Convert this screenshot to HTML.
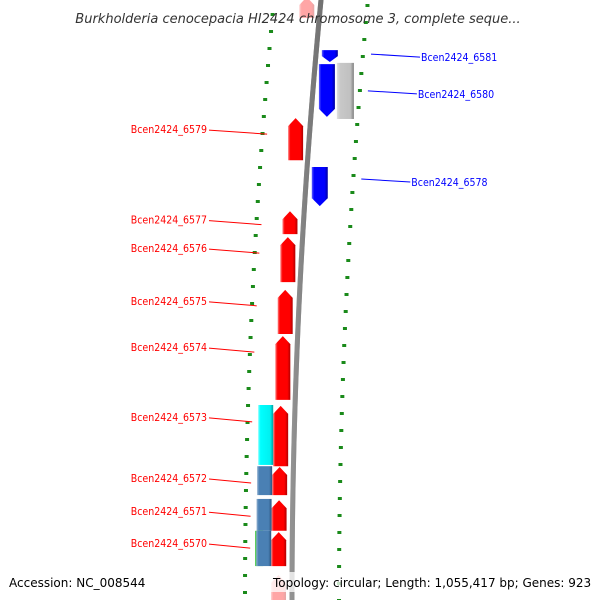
<!DOCTYPE html>
<html><head><meta charset="utf-8"><style>
html,body{margin:0;padding:0;background:#fff}
svg text{font-family:"DejaVu Sans Condensed","DejaVu Sans",sans-serif}
</style></head><body>
<svg id="map" width="600" height="600" viewBox="0 0 600 600" xmlns="http://www.w3.org/2000/svg">
<defs>
<linearGradient id="gRed" x1="0" x2="1"><stop offset="0" stop-color="#ff8080"/><stop offset="0.15" stop-color="#ff0000"/><stop offset="0.8" stop-color="#ff0000"/><stop offset="1" stop-color="#b00000"/></linearGradient>
<linearGradient id="gBlue" x1="0" x2="1"><stop offset="0" stop-color="#6060ff"/><stop offset="0.15" stop-color="#0000ff"/><stop offset="0.8" stop-color="#0000ff"/><stop offset="1" stop-color="#0000a0"/></linearGradient>
<linearGradient id="gGray" x1="0" x2="1"><stop offset="0" stop-color="#e0e0e0"/><stop offset="0.2" stop-color="#c8c8c8"/><stop offset="0.8" stop-color="#c0c0c0"/><stop offset="1" stop-color="#808080"/></linearGradient>
<linearGradient id="gCyan" x1="0" x2="1"><stop offset="0" stop-color="#80ffff"/><stop offset="0.15" stop-color="#00ffff"/><stop offset="0.8" stop-color="#00f0f0"/><stop offset="1" stop-color="#00a0a0"/></linearGradient>
<linearGradient id="gSteel" x1="0" x2="1"><stop offset="0" stop-color="#90b0d0"/><stop offset="0.15" stop-color="#4a80b4"/><stop offset="0.8" stop-color="#4a80b4"/><stop offset="1" stop-color="#2c5580"/></linearGradient>
<linearGradient id="gBack" x1="0" x2="1"><stop offset="0" stop-color="#a0a0a0"/><stop offset="0.5" stop-color="#707070"/><stop offset="1" stop-color="#505050"/></linearGradient>
</defs>
<g id="ticks"></g>
<g id="genes"></g>
<g id="labels"></g>
<text x="298" y="23" text-anchor="middle" font-size="13" font-style="italic" fill="#333" style="font-family:'DejaVu Sans',sans-serif">Burkholderia cenocepacia HI2424 chromosome 3, complete seque...</text>
<rect x="270" y="572" width="325" height="20" fill="#fff" opacity="0.75"/>
<text x="9" y="587" font-size="12" fill="#000" style="font-family:'DejaVu Sans',sans-serif">Accession: NC_008544</text>
<text x="273" y="587" font-size="12" fill="#000" style="font-family:'DejaVu Sans',sans-serif">Topology: circular; Length: 1,055,417 bp; Genes: 923</text>
</svg>
<script>
// data (kbp)
const majorTicks = [806, 804, 802, 800, 798, 796, 794];
const geneNames = ["top_partial","Bcen2424_6579","Bcen2424_6577","Bcen2424_6576","Bcen2424_6575","Bcen2424_6574","Bcen2424_6573","Bcen2424_6572","Bcen2424_6571","Bcen2424_6570","bottom_partial","Bcen2424_6581","Bcen2424_6580","Bcen2424_6578","c1","c2","c3","c4","c5","b1"];
const geneStart = [807.2,804.35,802.16,801.55,800.31,799.22,797.58,796.14,795.36,794.61,793.6,805.95,805.65,803.2,797.6,796.16,795.39,794.64,794.64,805.62];
const geneEnd   = [806.71,803.36,801.62,800.49,799.27,797.72,796.16,795.48,794.64,793.81,792.9,805.67,804.33,802.28,796.19,795.48,794.64,793.81,793.81,804.38];
const geneLane  = [-1,-1,-1,-1,-1,-1,-1,-1,-1,-1,-1,1,2,1,-2,-2,-2,-3,-2,1];
const geneKind  = ["red","red","red","red","red","red","red","red","red","red","red","blue","gray","blue","cyan","steel","steel","green","steel","blue"];
const labelled  = [false,true,true,true,true,true,true,true,true,true,false,true,true,true,false,false,false,false,false,false];

const NS="http://www.w3.org/2000/svg";
function yOf(k){return 48+(806-k)*42.5;}
function bx(y){const t=Math.max(0,1-y/600);return 292+29*t*t;}
function mk(tag,attrs,parent){const e=document.createElementNS(NS,tag);for(const a in attrs)e.setAttribute(a,attrs[a]);parent.appendChild(e);return e;}
const svg=document.getElementById('map');
const tg=document.getElementById('ticks'),gg=document.getElementById('genes'),lg=document.getElementById('labels');

// backbone
let d="";for(let y=-5;y<=605;y+=5){d+=(y===-5?"M":"L")+bx(y).toFixed(2)+" "+y;}
const bb=mk('path',{d:d,stroke:"url(#gBack)",'stroke-width':5,fill:"none"},gg);


mk('path',{d:d,stroke:"#888",'stroke-width':5,fill:"none",opacity:0.6},gg);

// ticks
for(let k=807.4;k>=792.8;k-=0.4){
  const kk=Math.round(k*10)/10;
  const isMajor=majorTicks.some(m=>Math.abs(m-kk)<0.05);
  const y=yOf(kk);
  const xr=bx(y)+47;
  const r=mk('rect',{x:xr-(isMajor?5:2),y:y-1.5,width:isMajor?10:4,height:3,fill:"#1a8a1a"},tg);
  
  
  const yl=y-8,xl=bx(yl)-47;
  const l=mk('rect',{x:xl-(isMajor?5:2),y:yl-1.5,width:isMajor?10:4,height:3,fill:"#1a8a1a"},tg);
  
  
  if(isMajor){
    const t=mk('text',{x:xr+12,y:y+4,'font-size':9,fill:"#222"},tg);
    
    
    t.textContent=kk+" kbp";
  }
}

// genes
const fills={red:"url(#gRed)",blue:"url(#gBlue)",gray:"url(#gGray)",cyan:"url(#gCyan)",steel:"url(#gSteel)",green:"#30c030"};
for(let i=0;i<geneNames.length;i++){
  const y0=yOf(geneStart[i]),y1=yOf(geneEnd[i]);
  const ym=(y0+y1)/2,b=bx(ym);
  const lane=geneLane[i];let x0,w;
  if(lane===-1){w=15;x0=b-6-w;}
  else if(lane===-2){w=15;x0=b-21-w;}
  else if(lane===-3){w=8;x0=b-29-w;}
  else if(lane===1){w=16;x0=b+6;}
  else {w=17;x0=b+24;}
  const kind=geneKind[i];let shape;
  const h=Math.min(8,(y1-y0)/2);
  if(kind==="red"){
    shape=mk('path',{d:`M${x0} ${y1} L${x0} ${y0+h} L${x0+w/2} ${y0} L${x0+w} ${y0+h} L${x0+w} ${y1} Z`,fill:fills[kind]},gg);
  } else if(kind==="blue"){
    shape=mk('path',{d:`M${x0} ${y0} L${x0+w} ${y0} L${x0+w} ${y1-h} L${x0+w/2} ${y1} L${x0} ${y1-h} Z`,fill:fills[kind]},gg);
  } else {
    shape=mk('rect',{x:x0,y:y0,width:w,height:y1-y0,fill:fills[kind]},gg);
  }
  if(geneNames[i]==="top_partial"||geneNames[i]==="bottom_partial")shape.setAttribute('opacity',0.35);
  
  
  if(labelled[i]){
    const ly=y0+Math.min(14,(y1-y0)/2);
    if(lane<0){
      const ln=mk('line',{x1:209,y1:ly-2,x2:b-47+5,y2:ly+2,stroke:"#ff0000",'stroke-width':1},lg);
      
      
      const t=mk('text',{x:207,y:ly+1,'text-anchor':"end",'font-size':10.5,fill:"#ff0000"},lg);
      
      
      t.textContent=geneNames[i];
    } else {
      const ly2=ly-2+(lane===2?16:0);
      const xs=bx(ly2)+52;
      const ln=mk('line',{x1:xs+3,y1:ly2,x2:xs+52,y2:ly2+3,stroke:"#0000ff",'stroke-width':1},lg);
      
      
      const t=mk('text',{x:xs+53,y:ly2+7,'font-size':10.5,fill:"#0000ff"},lg);
      
      
      t.textContent=geneNames[i];
    }
  }
}
</script>
</body></html>
